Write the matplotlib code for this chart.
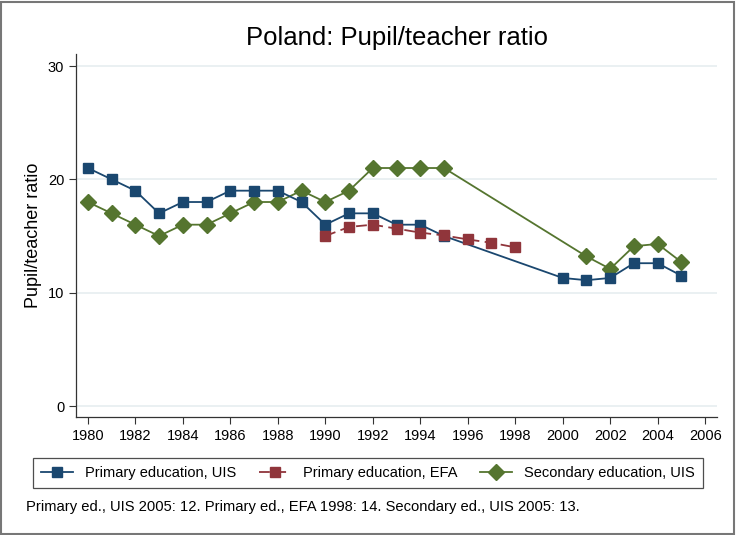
import matplotlib.pyplot as plt
from matplotlib.patches import Rectangle

plt.rcParams['font.family'] = ['Liberation Sans', 'DejaVu Sans']

# primary education, UIS
prim_uis_years = [1980, 1981, 1982, 1983, 1984, 1985, 1986, 1987, 1988, 1989,
                  1990, 1991, 1992, 1993, 1994, 1995, 2000, 2001, 2002, 2003, 2004, 2005]
prim_uis = [21, 20, 19, 17, 18, 18, 19, 19, 19, 18,
            16, 17, 17, 16, 16, 15, 11.3, 11.1, 11.3, 12.6, 12.6, 11.5]

# primary education, EFA
prim_efa_years = [1990, 1991, 1992, 1993, 1994, 1995, 1996, 1997, 1998]
prim_efa = [15.0, 15.8, 16.0, 15.65, 15.3, 15.05, 14.7, 14.4, 14.0]

# secondary education, UIS
sec_uis_years = [1980, 1981, 1982, 1983, 1984, 1985, 1986, 1987, 1988, 1989,
                 1990, 1991, 1992, 1993, 1994, 1995, 2001, 2002, 2003, 2004, 2005]
sec_uis = [18, 17, 16, 15, 16, 16, 17, 18, 18, 19,
           18, 19, 21, 21, 21, 21, 13.2, 12.1, 14.1, 14.3, 12.7]

xticks = list(range(1980, 2007, 2))
yticks = [0, 10, 20, 30]

c_blue = '#1a476f'
c_red = '#90353b'
c_green = '#55752f'

fig = plt.figure(figsize=(7.36, 5.35), dpi=100)
ax = fig.add_axes([76/736, 1-417/535, 641/736, 363/535])

for y in yticks:
    ax.axhline(y, color='#e6eef0', lw=1.2, zorder=0)

ax.plot(prim_uis_years, prim_uis, color=c_blue, lw=1.3, marker='s', ms=7,
        mec=c_blue, label='Primary education, UIS', zorder=3)
ax.plot(prim_efa_years, prim_efa, color=c_red, lw=1.3, ls=(0, (6, 3)), marker='s', ms=7,
        mec=c_red, label='Primary education, EFA', zorder=3)
ax.plot(sec_uis_years, sec_uis, color=c_green, lw=1.3, marker='D', ms=8,
        mec=c_green, label='Secondary education, UIS', zorder=2)

ax.set_xlim(1979.5, 2006.5)
ax.set_ylim(-0.97, 31.06)
ax.set_xticks(xticks)
ax.set_yticks(yticks)
ax.tick_params(labelsize=10.5, length=5, width=0.8, color='#333333')
for s in ['top', 'right']:
    ax.spines[s].set_visible(False)
for s in ['left', 'bottom']:
    ax.spines[s].set_color('#333333')
    ax.spines[s].set_linewidth(0.9)

ax.set_ylabel('Pupil/teacher ratio', fontsize=13, va='center')
ax.yaxis.set_label_coords(-0.067, 0.5)
fig.text(397/736, 1-38/535, 'Poland: Pupil/teacher ratio', ha='center', va='center', fontsize=18.5)

leg = fig.legend(loc='center', bbox_to_anchor=(26/736, 1-490/535, 684/736, 34/535),
                 mode='expand', ncol=3, fontsize=10.5, frameon=True, fancybox=False,
                 handlelength=2.2, borderpad=0.55, columnspacing=1.0)
leg.get_frame().set_edgecolor('#222222')
leg.get_frame().set_linewidth(0.9)

fig.text(26/736, 1-507/535,
         'Primary ed., UIS 2005: 12. Primary ed., EFA 1998: 14. Secondary ed., UIS 2005: 13.',
         ha='left', va='center', fontsize=10.6)

fig.patches.append(Rectangle((1/736, 1/535), 733/736, 532/535, transform=fig.transFigure,
                             fill=False, edgecolor='#777777', lw=1.5))

fig.savefig('out.png', dpi=100)
